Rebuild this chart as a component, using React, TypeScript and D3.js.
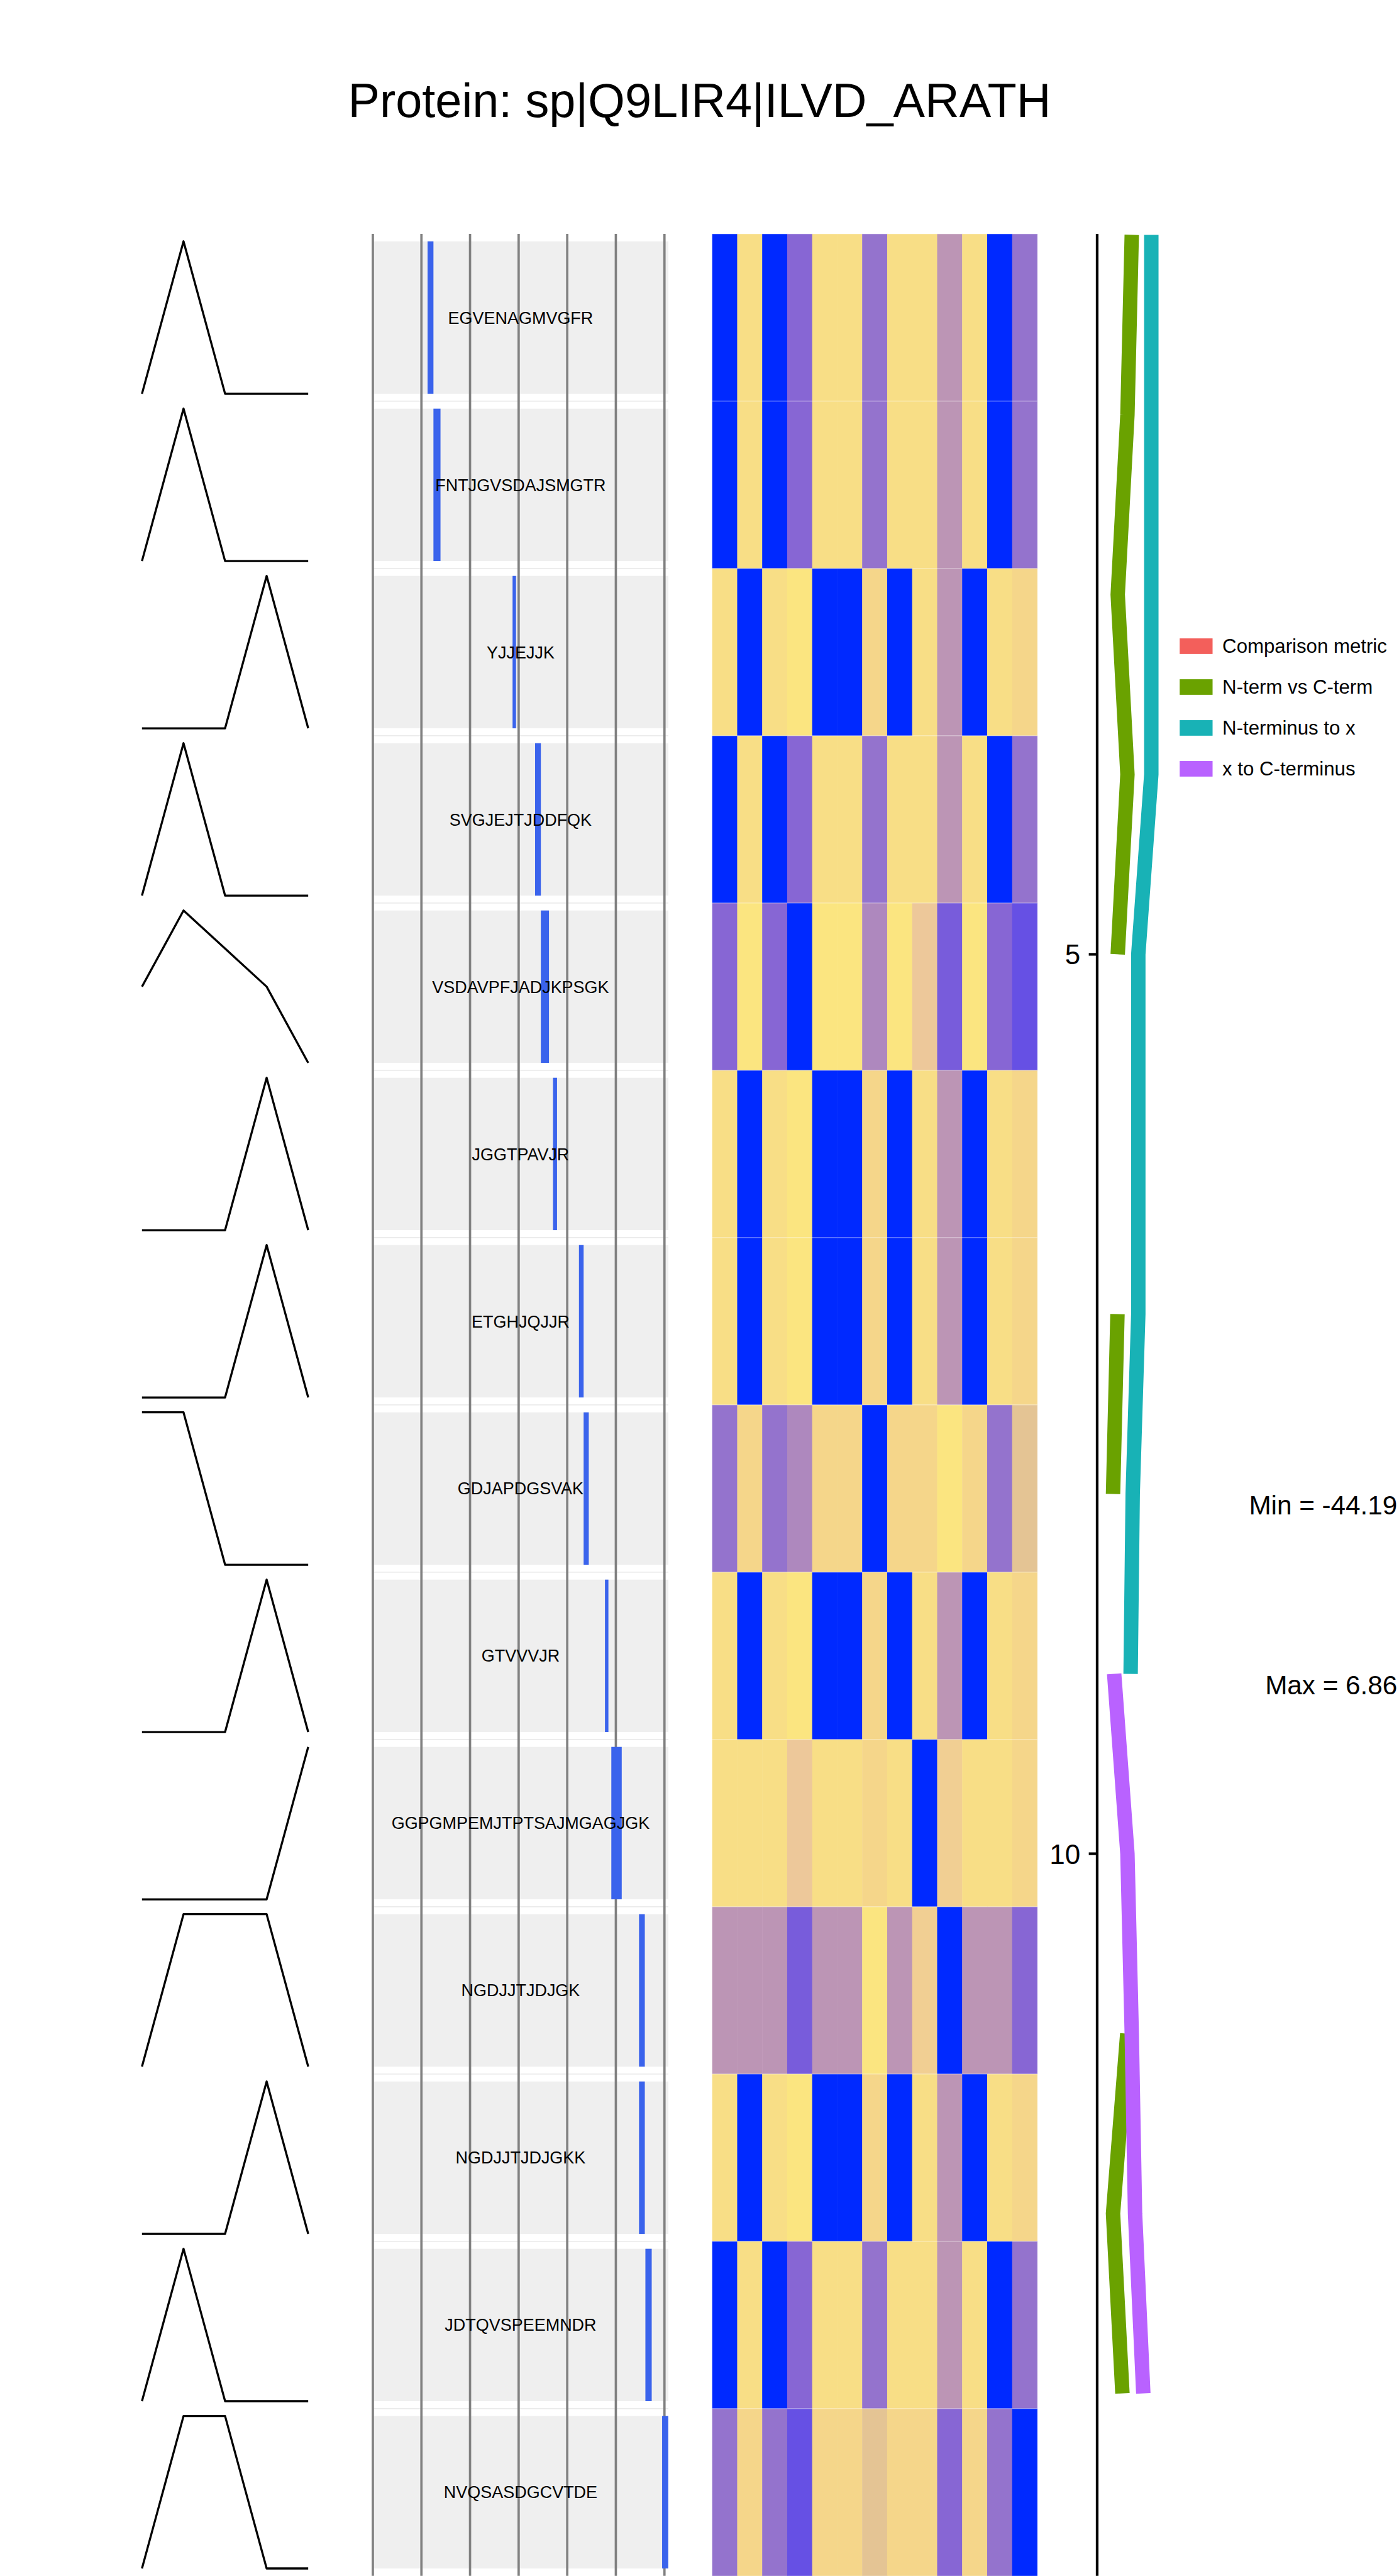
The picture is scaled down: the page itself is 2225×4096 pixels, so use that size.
import React, { useEffect, useRef } from 'react'
import * as d3 from 'd3'

// chart text
const title = "Protein: sp|Q9LIR4|ILVD_ARATH"
const minLabel = "Min = -44.19"
const maxLabel = "Max = 6.86"
const legendLabels = ["Comparison metric", "N-term vs C-term", "N-terminus to x", "x to C-terminus"]

// peptides, in protein order
const peptides = [
  "EGVENAGMVGFR", "FNTJGVSDAJSMGTR", "YJJEJJK", "SVGJEJTJDDFQK",
  "VSDAVPFJADJKPSGK", "JGGTPAVJR", "ETGHJQJJR", "GDJAPDGSVAK",
  "GTVVVJR", "GGPGMPEMJTPTSAJMGAGJGK", "NGDJJTJDJGK", "NGDJJTJDJGKK",
  "JDTQVSPEEMNDR", "NVQSASDGCVTDE"
]
const proteinLength = 608
const pepStart = [112.6, 124.7, 287.5, 333.8, 345.7, 370.7, 424.1, 433.7, 477.6, 490.7, 547.7, 547.7, 560.8, 595.2]
const pepEnd = [124.7, 139.2, 294.6, 345.7, 362.4, 379.0, 433.7, 444.3, 484.7, 512.1, 559.6, 559.6, 573.8, 607.8]

// relative intensity profile of each peptide (5 samples, scaled 0..1)
const profiles = [
  [0, 1, 0, 0, 0],
  [0, 1, 0, 0, 0],
  [0, 0, 0, 1, 0],
  [0, 1, 0, 0, 0],
  [0.5, 1, 0.75, 0.5, 0],
  [0, 0, 0, 1, 0],
  [0, 0, 0, 1, 0],
  [1, 1, 0, 0, 0],
  [0, 0, 0, 1, 0],
  [0, 0, 0, 0, 1],
  [0, 1, 1, 1, 0],
  [0, 0, 0, 1, 0],
  [0, 1, 0, 0, 0],
  [0, 1, 1, 0, 0]
]

// heatmap values (14 peptides x 13 columns)
const heat = [
  [0, .93, 0, .25, .93, .93, .32, .93, .93, .5, .93, 0, .32],
  [0, .93, 0, .25, .93, .93, .32, .93, .93, .5, .93, 0, .32],
  [.93, 0, .93, 1, 0, 0, .86, 0, .93, .5, 0, .93, .86],
  [0, .93, 0, .25, .93, .93, .32, .93, .93, .5, .93, 0, .32],
  [.25, 1, .25, 0, 1, 1, .42, 1, .7, .17, 1, .25, .1],
  [.93, 0, .93, 1, 0, 0, .86, 0, .93, .5, 0, .93, .86],
  [.93, 0, .93, 1, 0, 0, .86, 0, .93, .5, 0, .93, .86],
  [.32, .86, .32, .42, .86, .86, 0, .86, .86, 1, .86, .32, .62],
  [.93, 0, .93, 1, 0, 0, .86, 0, .93, .5, 0, .93, .86],
  [.93, .93, .93, .7, .93, .93, .86, .93, 0, .78, .93, .93, .86],
  [.5, .5, .5, .17, .5, .5, 1, .5, .78, 0, .5, .5, .25],
  [.93, 0, .93, 1, 0, 0, .86, 0, .93, .5, 0, .93, .86],
  [0, .93, 0, .25, .93, .93, .32, .93, .93, .5, .93, 0, .32],
  [.32, .86, .32, .1, .86, .86, .62, .86, .86, .25, .86, .32, 0]
]

// metric paths along the peptide index (null = no value)
const ntermVsCterm = [54.5, 47.7, 32.4, 47.7, 32.4, null, 32.0, 25.0, null, null, 47.4, 25.0, 39.8, null]
const ntermToX = [85.3, 85.3, 85.3, 85.3, 64.8, 64.8, 64.8, 56.0, 52.7, null, null, null, null, null]
const xToCterm = [null, null, null, null, null, null, null, null, 26.8, 47.7, 54.5, 59.7, 72.7, null]

const FONT = "'Liberation Sans', Arial, Helvetica, sans-serif"

export default function App() {
  const ref = useRef(null)

  useEffect(() => {
    const svg = d3.select(ref.current)
    svg.selectAll("*").remove()

    const n = peptides.length
    const rows = d3.scaleBand().domain(d3.range(n)).range([405, 4462])
    const rowMid = (i) => rows(i) + rows.bandwidth() / 2
    const half = 132

    svg.append("rect").attr("width", 2424).attr("height", 4462).attr("fill", "#fff")

    // title
    svg.append("text")
      .attr("x", 1212).attr("y", 202)
      .attr("text-anchor", "middle")
      .style("font-family", FONT).style("font-size", "82.5px")
      .text(title)

    // --- profiles
    const px = d3.scalePoint().domain(d3.range(5)).range([246, 534])
    profiles.forEach((p, i) => {
      const py = d3.scaleLinear().domain([0, 1]).range([rowMid(i) + half, rowMid(i) - half])
      const line = d3.line().x((d, j) => px(j)).y(d => py(d))
      svg.append("path")
        .attr("d", line(p))
        .attr("fill", "none")
        .attr("stroke", "#000")
        .attr("stroke-width", 3.6)
        .attr("stroke-linejoin", "round")
    })

    // --- peptide positions
    const pos = d3.scaleLinear().domain([0, proteinLength]).range([646, 1158])
    const pep = svg.append("g")
    pep.selectAll(".panel")
      .data(peptides)
      .enter().append("rect")
      .attr("x", pos(0)).attr("width", pos(proteinLength) - pos(0))
      .attr("y", (d, i) => rowMid(i) - half).attr("height", half * 2)
      .attr("fill", "#EFEFEF")
    pep.selectAll(".sep")
      .data(d3.range(1, n))
      .enter().append("line")
      .attr("x1", pos(0)).attr("x2", pos(proteinLength))
      .attr("y1", d => rows(d)).attr("y2", d => rows(d))
      .attr("stroke", "#E4E4E4").attr("stroke-width", 1.5)
    pep.selectAll(".grid")
      .data(pos.ticks(6))
      .enter().append("line")
      .attr("x1", d => pos(d)).attr("x2", d => pos(d))
      .attr("y1", 405).attr("y2", 4462)
      .attr("stroke", "#808080").attr("stroke-width", 4)
    pep.selectAll(".bar")
      .data(peptides)
      .enter().append("rect")
      .attr("x", (d, i) => pos(pepStart[i]))
      .attr("width", (d, i) => pos(pepEnd[i]) - pos(pepStart[i]))
      .attr("y", (d, i) => rowMid(i) - half).attr("height", half * 2)
      .attr("fill", "#3A63EC")
    pep.selectAll(".lab")
      .data(peptides)
      .enter().append("text")
      .attr("x", pos(proteinLength / 2))
      .attr("y", (d, i) => rowMid(i) + 10.5)
      .attr("text-anchor", "middle")
      .style("font-family", FONT).style("font-size", "29.4px")
      .text(d => d)

    // --- heatmap
    const cols = d3.scaleBand().domain(d3.range(heat[0].length)).range([1234, 1797])
    const color = d3.scaleLinear()
      .domain([0, .1, .17, .25, .32, .42, .5, .62, .7, .78, .86, .93, 1])
      .range(["#0029FF", "#6650E4", "#785CDB", "#8766D4", "#9473CD", "#AE88BE", "#BC95B5",
        "#E4C494", "#EDC89A", "#F1CF93", "#F5D68A", "#F8DE86", "#FBE580"])
      .interpolate(d3.interpolateLab)
    const hm = svg.append("g")
    heat.forEach((row, i) => {
      hm.selectAll(".r" + i)
        .data(row)
        .enter().append("rect")
        .attr("x", (d, j) => cols(j))
        .attr("width", cols.bandwidth() + 0.5)
        .attr("y", rows(i))
        .attr("height", rows.bandwidth())
        .attr("fill", d => color(d))
    })
    hm.selectAll(".hl")
      .data(d3.range(0, n))
      .enter().append("line")
      .attr("x1", 1234).attr("x2", 1797)
      .attr("y1", d => rows(d)).attr("y2", d => rows(d))
      .attr("stroke", "rgba(255,255,255,0.4)").attr("stroke-width", 1.5)

    // --- metric panel
    const mx = d3.scaleLinear().domain([0, 100]).range([1901, 2011])
    const my = d3.scaleLinear().domain([1, 14]).range([406.6, 4457.4])
    const mline = d3.line()
      .defined(d => d != null)
      .x(d => mx(d))
      .y((d, i) => my(i + 1))
    const series = [
      { values: ntermVsCterm, color: "#6AA200" },
      { values: ntermToX, color: "#18B2B6" },
      { values: xToCterm, color: "#B962FF" }
    ]
    series.forEach(s => {
      svg.append("path")
        .attr("d", mline(s.values))
        .attr("fill", "none")
        .attr("stroke", s.color)
        .attr("stroke-width", 25)
        .attr("stroke-linecap", "butt")
        .attr("stroke-linejoin", "miter")
    })
    svg.append("line")
      .attr("x1", mx(0)).attr("x2", mx(0))
      .attr("y1", 405).attr("y2", 4462)
      .attr("stroke", "#000").attr("stroke-width", 4.6)
    const ticks = my.ticks(3)
    svg.selectAll(".tick")
      .data(ticks)
      .enter().append("line")
      .attr("x1", mx(0) - 14.5).attr("x2", mx(0))
      .attr("y1", d => my(d)).attr("y2", d => my(d))
      .attr("stroke", "#000").attr("stroke-width", 4.6)
    svg.selectAll(".tlab")
      .data(ticks)
      .enter().append("text")
      .attr("x", 1872).attr("y", d => my(d) + 17.5)
      .attr("text-anchor", "end")
      .style("font-family", FONT).style("font-size", "48px")
      .text(d => d)

    // legend
    const legColors = ["#F35F5B", "#6AA200", "#18B2B6", "#B962FF"]
    const leg = svg.append("g")
    legendLabels.forEach((l, i) => {
      const cy = 1119.2 + i * 70.8
      leg.append("rect")
        .attr("x", 2044).attr("y", cy - 13.5)
        .attr("width", 57).attr("height", 27)
        .attr("fill", legColors[i])
      leg.append("text")
        .attr("x", 2118).attr("y", cy + 12)
        .style("font-family", FONT).style("font-size", "34px")
        .text(l)
    })

    // min / max notes
    svg.append("text")
      .attr("x", 2421).attr("y", 2623)
      .attr("text-anchor", "end")
      .style("font-family", FONT).style("font-size", "46px")
      .text(minLabel)
    svg.append("text")
      .attr("x", 2421).attr("y", 2935)
      .attr("text-anchor", "end")
      .style("font-family", FONT).style("font-size", "46px")
      .text(maxLabel)
  }, [])

  return (
    <svg
      ref={ref}
      width={2225}
      height={4096}
      viewBox="0 0 2424 4462"
      style={{ position: 'absolute', left: 0, top: 0, display: 'block' }}
    />
  )
}
